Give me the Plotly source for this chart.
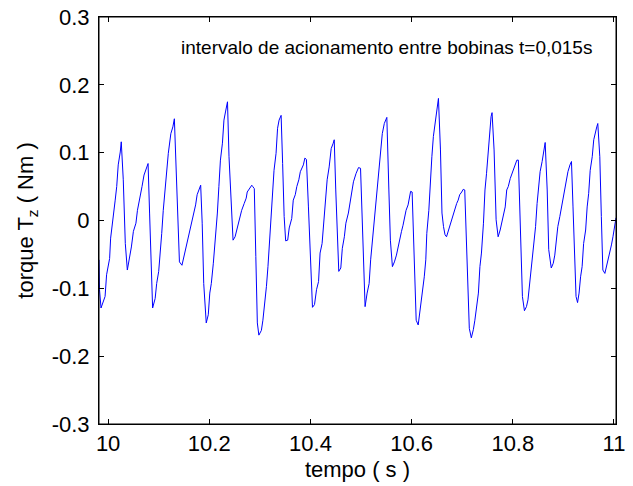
import plotly.graph_objects as go

# time (s)
tempo = [
    9.982, 9.983, 9.986, 9.991, 9.994, 9.997, 10.003, 10.005, 10.009, 10.014,
    10.017, 10.020, 10.024, 10.026, 10.030, 10.034, 10.038, 10.042, 10.046, 10.050,
    10.055, 10.058, 10.063, 10.067, 10.071, 10.075, 10.079, 10.082, 10.085, 10.088,
    10.093, 10.096, 10.100, 10.103, 10.106, 10.109, 10.113, 10.116, 10.119, 10.124,
    10.128, 10.131, 10.134, 10.138, 10.141, 10.146, 10.150,
    10.155, 10.159, 10.163, 10.166, 10.170, 10.173, 10.176, 10.179, 10.183, 10.186,
    10.189, 10.194, 10.198, 10.201, 10.204, 10.208, 10.212, 10.216, 10.219, 10.222,
    10.226, 10.229, 10.232, 10.234, 10.236, 10.239, 10.243, 10.247, 10.251, 10.255,
    10.260, 10.264, 10.269, 10.273, 10.275, 10.279, 10.284, 10.286, 10.289, 10.292,
    10.295, 10.298, 10.303, 10.306, 10.309, 10.313, 10.316, 10.319, 10.322, 10.325,
    10.328, 10.332, 10.335, 10.338, 10.342, 10.345, 10.348, 10.351, 10.355, 10.358,
    10.363, 10.366, 10.370, 10.373, 10.377, 10.380, 10.383, 10.386, 10.389, 10.392,
    10.396, 10.400, 10.404, 10.408, 10.412, 10.416, 10.419, 10.423, 10.426, 10.429,
    10.433, 10.437, 10.441, 10.445, 10.447, 10.450, 10.453, 10.456, 10.460, 10.463,
    10.467, 10.470, 10.475, 10.478, 10.481, 10.485, 10.490, 10.495,
    10.499, 10.502, 10.505, 10.508, 10.512, 10.516, 10.519, 10.522, 10.526, 10.529,
    10.532, 10.535, 10.539, 10.542, 10.546, 10.551, 10.555, 10.558, 10.562, 10.566,
    10.570, 10.573, 10.576, 10.580, 10.583, 10.586, 10.589, 10.593, 10.596, 10.598,
    10.601, 10.604, 10.607, 10.609, 10.613, 10.617, 10.621, 10.625, 10.628, 10.630,
    10.634, 10.637, 10.640, 10.643, 10.647, 10.650, 10.653, 10.657, 10.660, 10.663,
    10.666, 10.669, 10.673, 10.676, 10.679, 10.682, 10.686, 10.689, 10.692, 10.695,
    10.699, 10.702, 10.705, 10.708, 10.712, 10.714, 10.718, 10.722, 10.725, 10.728,
    10.732, 10.735, 10.738, 10.742, 10.745, 10.748, 10.752, 10.755, 10.757, 10.759,
    10.763, 10.767, 10.771, 10.775, 10.778, 10.781, 10.785, 10.788, 10.791, 10.795,
    10.798, 10.801, 10.805, 10.808, 10.811, 10.814, 10.816, 10.819, 10.823, 10.827,
    10.830, 10.834, 10.837, 10.840,
    10.845, 10.848, 10.851, 10.854, 10.858, 10.861, 10.864, 10.868, 10.871, 10.876,
    10.880, 10.883, 10.886, 10.889, 10.893, 10.896, 10.899, 10.903, 10.906, 10.909,
    10.913, 10.916, 10.919, 10.922, 10.925, 10.928, 10.931, 10.934, 10.937, 10.940,
    10.944, 10.947, 10.950, 10.953, 10.957, 10.960, 10.963, 10.966, 10.968, 10.972,
    10.975, 10.978, 10.982, 10.985, 10.988, 10.992, 10.995, 10.998, 11.001, 11.004,
]

# torque Tz (Nm)
torque = [
    -0.058, -0.102, -0.129, -0.120, -0.112, -0.080, -0.056, -0.026, -0.004, 0.030,
    0.050, 0.082, 0.101, 0.116, 0.060, -0.034, -0.073, -0.058, -0.039, -0.016,
    -0.004, 0.015, 0.038, 0.050, 0.067, 0.077, 0.084, 0.011, -0.068, -0.129,
    -0.115, -0.093, -0.075, -0.039, -0.019, 0.015, 0.050, 0.079, 0.099, 0.128,
    0.138, 0.150, 0.089, 0.006, -0.061, -0.066, -0.053,
    -0.034, -0.024, -0.009, 0.001, 0.015, 0.023, 0.038, 0.045, 0.052, -0.004,
    -0.093, -0.151, -0.139, -0.107, -0.093, -0.063, -0.029, 0.011, 0.050, 0.089,
    0.114, 0.148, 0.160, 0.168, 0.175, 0.094, 0.020, -0.029, -0.024, -0.011,
    0.003, 0.015, 0.025, 0.033, 0.042, 0.047, 0.052, 0.050, 0.047, -0.053,
    -0.151, -0.169, -0.162, -0.147, -0.129, -0.097, -0.068, -0.029, 0.000, 0.030,
    0.074, 0.099, 0.136, 0.148, 0.155, 0.084, 0.006, -0.030, -0.029, -0.011,
    0.003, 0.030, 0.038, 0.050, 0.060, 0.072, 0.078, 0.082, 0.092, 0.090,
    0.020, -0.068, -0.128, -0.124, -0.102, -0.090, -0.048, -0.034, -0.004, 0.030,
    0.060, 0.079, 0.106, 0.114, 0.119, 0.045, -0.029, -0.075, -0.070, -0.041,
    -0.024, -0.004, 0.011, 0.025, 0.040, 0.057, 0.069, 0.078,
    0.077, 0.006, -0.078, -0.127, -0.107, -0.093, -0.058, -0.034, 0.001, 0.025,
    0.055, 0.079, 0.109, 0.128, 0.143, 0.152, 0.045, -0.029, -0.068, -0.061,
    -0.051, -0.039, -0.029, -0.016, -0.007, 0.006, 0.015, 0.023, 0.035, 0.043,
    0.042, -0.029, -0.102, -0.147, -0.154, -0.132, -0.107, -0.083, -0.058, -0.019,
    0.015, 0.060, 0.094, 0.124, 0.146, 0.165, 0.180, 0.104, 0.011, -0.009,
    -0.021, -0.024, -0.014, -0.004, 0.001, 0.011, 0.018, 0.025, 0.030, 0.038,
    0.042, 0.046, 0.045, -0.029, -0.102, -0.159, -0.173, -0.161, -0.147, -0.127,
    -0.107, -0.068, -0.048, -0.004, 0.045, 0.069, 0.109, 0.138, 0.153, 0.159,
    0.104, 0.001, -0.024, -0.014, -0.004, 0.011, 0.020, 0.045, 0.050, 0.062,
    0.069, 0.074, 0.082, 0.089, 0.089, 0.020, -0.053, -0.112, -0.133, -0.127,
    -0.117, -0.090, -0.063, -0.050,
    -0.009, 0.025, 0.045, 0.072, 0.087, 0.101, 0.115, 0.045, -0.043, -0.070,
    -0.063, -0.051, -0.024, -0.009, 0.006, 0.018, 0.030, 0.047, 0.057, 0.072,
    0.082, 0.087, 0.020, -0.053, -0.112, -0.121, -0.107, -0.083, -0.068, -0.034,
    -0.014, 0.020, 0.040, 0.074, 0.094, 0.119, 0.131, 0.138, 0.143, 0.094,
    0.006, -0.073, -0.078, -0.068, -0.063, -0.046, -0.036, -0.024, -0.009, 0.004,
]

x_tickvals = [10, 10.2, 10.4, 10.6, 10.8, 11]
x_ticktext = ["10", "10.2", "10.4", "10.6", "10.8", "11"]
y_tickvals = [-0.3, -0.2, -0.1, 0, 0.1, 0.2, 0.3]
y_ticktext = ["-0.3", "-0.2", "-0.1", "0", "0.1", "0.2", "0.3"]

FONT = "Liberation Sans, Arial, Helvetica, sans-serif"

fig = go.Figure()
fig.add_trace(go.Scatter(
    x=tempo, y=torque, mode="lines",
    line=dict(color="#0000ff", width=1),
    showlegend=False, hoverinfo="skip",
))

axis_common = dict(
    showline=True, linecolor="black", linewidth=1, mirror="allticks",
    ticks="inside", ticklen=5, tickwidth=1, tickcolor="black",
    showgrid=False, zeroline=False, ticklabeloverflow="allow", automargin=False,
    tickfont=dict(family=FONT, size=22, color="black"),
)

fig.update_xaxes(
    range=[9.982, 11.004], tickvals=x_tickvals, ticktext=x_ticktext,
    title=dict(text="tempo ( s )", font=dict(family=FONT, size=22, color="black"), standoff=6),
    **axis_common,
)
fig.update_yaxes(
    range=[-0.3, 0.3], tickvals=y_tickvals, ticktext=y_ticktext,
    ticklabelstandoff=4,
    title=dict(text="torque T<sub>z</sub> ( Nm )", font=dict(family=FONT, size=22, color="black"), standoff=11),
    **axis_common,
)

# axes box
fig.add_shape(type="rect", xref="paper", yref="paper", x0=0, y0=0, x1=1, y1=1,
              line=dict(color="black", width=1), fillcolor="rgba(0,0,0,0)", layer="above")

fig.add_annotation(
    text="intervalo de acionamento entre bobinas t=0,015s",
    xref="paper", yref="paper", x=0.557, y=0.926,
    xanchor="center", yanchor="middle", showarrow=False,
    font=dict(family=FONT, size=19, color="black"),
)

fig.update_layout(
    width=633, height=486,
    margin=dict(l=99, r=17, t=17, b=62, pad=0, autoexpand=False),
    paper_bgcolor="white", plot_bgcolor="white",
)

# remove the browser's default 8 px body margin so the figure fills the window
fig.write_html(
    "out.html",
    config={"displayModeBar": False, "staticPlot": True},
    post_script="document.body.style.margin='0';",
)
